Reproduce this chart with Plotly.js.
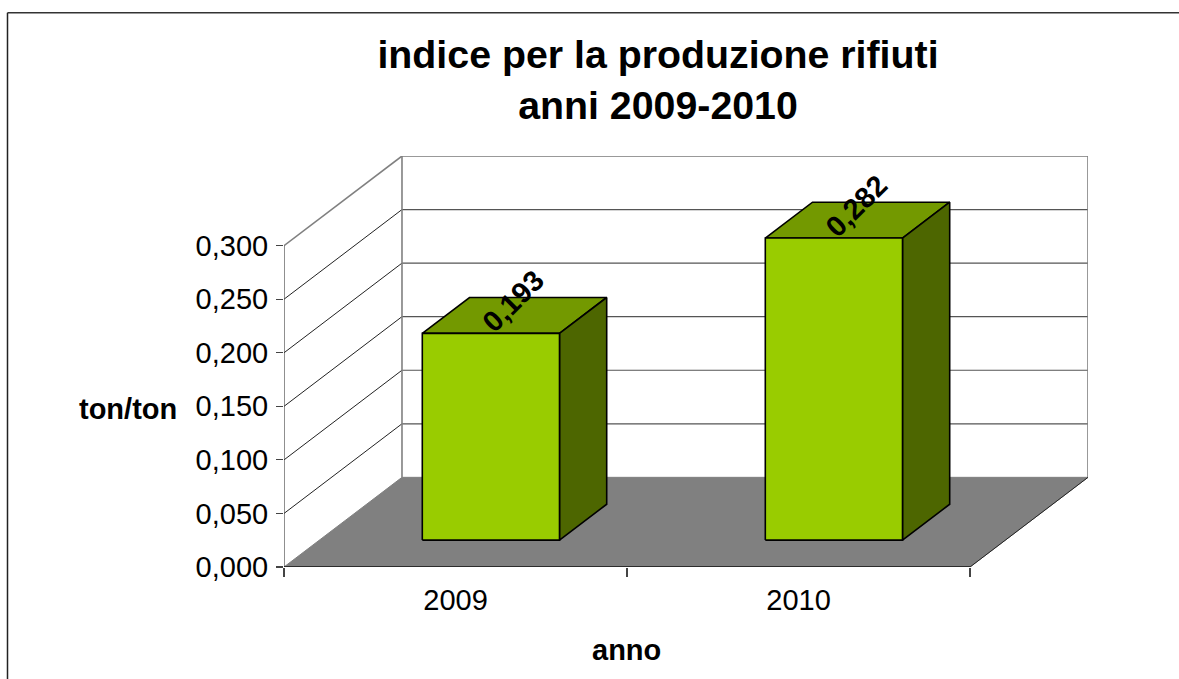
<!DOCTYPE html>
<html><head><meta charset="utf-8">
<script src="https://cdn.plot.ly/plotly-3.0.1.min.js"></script>
<style>html,body{margin:0;padding:0;background:#fff;overflow:hidden}</style>
</head><body><div id="chart" style="width:1179px;height:679px"></div>
<script>
const years = ['2009', '2010'];
const values = [0.193, 0.282];
const valueLabels = ['0,193', '0,282'];
const yTickVals = [0, 0.05, 0.1, 0.15, 0.2, 0.25, 0.3];
const yTickText = ['0,000', '0,050', '0,100', '0,150', '0,200', '0,250', '0,300'];

const W = 1179, H = 679, L = 284, R = 1088, T = 155.5, B = 567.5;
const yMaxFront = 0.3;
const DX = 0.344, DY = 0.0837;            // oblique depth, in axis units
const xMax = years.length + DX, yMax = yMaxFront + DY;
const FONT = 'Liberation Sans, Arial, sans-serif';

function poly(xs, ys, fill, lineColor, lineWidth, xaxis) {
  return {x: xs, y: ys, type: 'scatter', mode: 'lines', fill: fill ? 'toself' : 'none',
    fillcolor: fill || undefined, line: {color: lineColor, width: lineWidth, simplify: false},
    hoverinfo: 'skip', showlegend: false, cliponaxis: false, xaxis: xaxis || 'x', yaxis: 'y'};
}
const traces = [];
// floor
traces.push(poly([0, years.length, xMax, DX, 0], [0, 0, DY, DY, 0], '#808080', '#808080', 1));
// side wall diagonals and back wall lines
yTickVals.slice(1).forEach(v => {
  const top = v === yMaxFront;
  traces.push(poly([0, DX], [v, v + DY], null, top ? '#808080' : '#222', top ? 1.6 : 1));
  traces.push(poly([DX, xMax], [v + DY, v + DY], null, top ? '#999' : '#555', top ? 2 : 1.2));
});
traces.push(poly([DX, DX], [DY, yMax], null, '#808080', 1.6));
traces.push(poly([xMax, xMax], [DY, yMax], null, '#808080', 1.6));
traces.push(poly([years.length, xMax], [0, DY], null, '#222', 1));
// front axis lines (x2 carries the boundary tick marks)
traces.push(poly([0, years.length], [0, 0], null, '#111', 1.4, 'x2'));
traces.push(poly([0, 0], [0, yMaxFront], null, '#444', 1.2));
// bars
const gap = 0.3, bw = 0.4, fd = 0.3, bd = 0.7;
values.forEach((v, i) => {
  const x0 = i + gap + DX * fd, x1 = x0 + bw, y0 = DY * fd;
  const ddx = DX * (bd - fd), ddy = DY * (bd - fd);
  traces.push(poly([x0, x1, x1 + ddx, x0 + ddx, x0], [y0 + v, y0 + v, y0 + v + ddy, y0 + v + ddy, y0 + v], '#739900', '#000', 1.6));
  traces.push(poly([x1, x1 + ddx, x1 + ddx, x1, x1], [y0, y0 + ddy, y0 + v + ddy, y0 + v, y0], '#4D6600', '#000', 1.6));
  traces.push(poly([x0, x1, x1, x0, x0], [y0, y0, y0 + v, y0 + v, y0], '#99CC00', '#000', 1.6));
});

const annotations = values.map((v, i) => ({
  x: i + gap + bw / 2 + DX * fd + 0.065, y: DY * fd + v + 0.030,
  xref: 'x', yref: 'y', text: '<b>' + valueLabels[i] + '</b>', showarrow: false,
  textangle: -45, xanchor: 'center', yanchor: 'middle',
  font: {family: FONT, size: 29, color: '#000'}
}));
annotations.push({xref: 'paper', yref: 'paper', x: (128 - L) / (R - L), y: (B - 409) / (B - T),
  text: '<b>ton/ton</b>', showarrow: false, xanchor: 'center', yanchor: 'middle',
  font: {family: FONT, size: 29, color: '#000'}});
annotations.push({xref: 'paper', yref: 'paper', x: (626 - L) / (R - L), y: (B - 651) / (B - T),
  text: '<b>anno</b>', showarrow: false, xanchor: 'center', yanchor: 'middle',
  font: {family: FONT, size: 29, color: '#000'}});

const px = p => (p - L) / (R - L), py = p => (B - p) / (B - T);
const layout = {
  width: W, height: H, margin: {l: L, r: W - R, t: T, b: H - B, pad: 0},
  paper_bgcolor: '#fff', plot_bgcolor: 'rgba(0,0,0,0)', showlegend: false,
  title: {text: '<b>indice per la produzione rifiuti<br>anni 2009-2010</b>',
    xref: 'container', yref: 'container', x: 658 / W, xanchor: 'center',
    y: 1 - 68 / H, yanchor: 'top', font: {family: FONT, size: 39.3, color: '#000'}},
  xaxis: {range: [0, xMax], tickmode: 'array', tickvals: years.map((_, i) => i + 0.5), ticktext: years,
    ticks: 'outside', ticklen: 7, tickcolor: 'rgba(0,0,0,0)', showgrid: false, zeroline: false,
    showline: false, tickfont: {family: FONT, size: 29, color: '#000'}, automargin: false, fixedrange: true},
  xaxis2: {range: [0, xMax], overlaying: 'x', side: 'bottom', anchor: 'y', tickmode: 'array',
    tickvals: [0, 1, 2], ticktext: ['', '', ''], ticks: 'outside', ticklen: 9, tickcolor: '#444', tickwidth: 1.2,
    showgrid: false, zeroline: false, showline: false, showticklabels: false, automargin: false, fixedrange: true},
  yaxis: {range: [0, yMax], tickmode: 'array', tickvals: yTickVals, ticktext: yTickText,
    ticks: 'outside', ticklen: 7, tickcolor: '#444', tickwidth: 1.2, ticklabelstandoff: 2, showgrid: false, zeroline: false,
    showline: false, tickfont: {family: FONT, size: 29, color: '#000'}, automargin: false, fixedrange: true},
  annotations: annotations,
  shapes: [
    {type: 'line', xref: 'paper', yref: 'paper', x0: px(7.5), x1: px(W + 2), y0: py(12), y1: py(12), line: {color: '#333', width: 1.5}, layer: 'below'},
    {type: 'line', xref: 'paper', yref: 'paper', x0: px(7.5), x1: px(7.5), y0: py(12), y1: py(H + 2), line: {color: '#222', width: 1.5}, layer: 'below'}
  ]
};
Plotly.newPlot('chart', traces, layout, {displayModeBar: false, staticPlot: true});
</script></body></html>
